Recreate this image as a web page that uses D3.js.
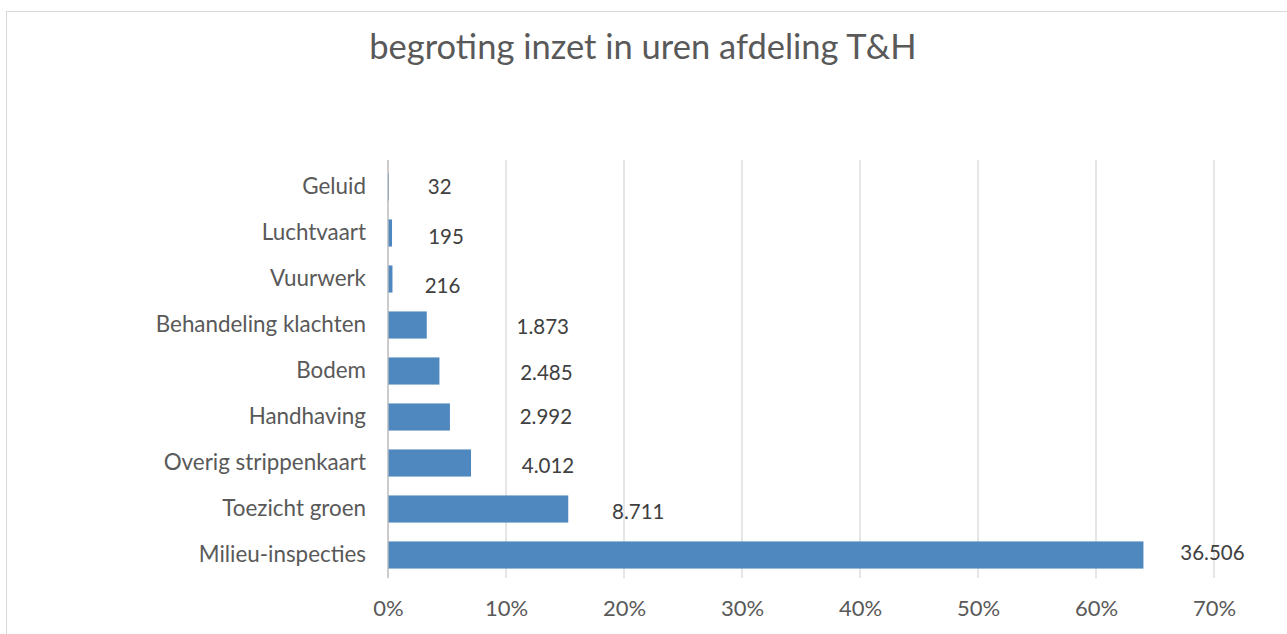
<!DOCTYPE html>
<html>
<head>
<meta charset="utf-8">
<script src="https://cdn.jsdelivr.net/npm/d3@7"></script>
<style>
  body { margin: 0; background: #fff; }
  svg { display: block; font-family: Lato, "Open Sans", sans-serif; }
</style>
</head>
<body>
<svg id="chart"></svg>
<script>
const categories = ["Geluid", "Luchtvaart", "Vuurwerk", "Behandeling klachten", "Bodem",
  "Handhaving", "Overig strippenkaart", "Toezicht groen", "Milieu-inspecties"];
const uren = [32, 195, 216, 1873, 2485, 2992, 4012, 8711, 36506];
const tickValues = [0, 0.1, 0.2, 0.3, 0.4, 0.5, 0.6, 0.7];

const width = 1287;
const height = 634;
const margin = { top: 164, right: 73, bottom: 56, left: 388 };

// labels in the original were dragged around by hand
const labelDx = [51, 54, 50, 116, 107, 96, 77, 70, 69];
const labelDy = [0, 4, 7, 2, 2, 0, 3, 3, -2];

const total = d3.sum(uren);
const data = categories.map((c, i) => ({ cat: c, value: uren[i], share: uren[i] / total, i }));

const svg = d3.select("#chart")
  .attr("width", width)
  .attr("height", height);

// chart frame
svg.append("rect")
  .attr("x", 6.5).attr("y", 11.5)
  .attr("width", width + 10).attr("height", height)
  .attr("fill", "#fff")
  .attr("stroke", "#d9d9d9");

const x = d3.scaleLinear()
  .domain([0, 0.7])
  .range([margin.left, width - margin.right]);

const y = d3.scaleBand()
  .domain(categories)
  .range([margin.top, height - margin.bottom])
  .paddingInner(0.41)
  .paddingOuter(0.205);

// Title
svg.append("text")
  .attr("x", 643)
  .attr("y", 59)
  .attr("text-anchor", "middle")
  .style("font-size", "34.5px")
  .style("fill", "#595959")
  .text("begroting inzet in uren afdeling T&H");

// gridlines
svg.append("g")
  .selectAll("line")
  .data(tickValues)
  .enter()
  .append("line")
  .attr("x1", d => x(d)).attr("x2", d => x(d))
  .attr("y1", margin.top - 4).attr("y2", height - margin.bottom)
  .attr("stroke", "#d9d9d9")
  .attr("stroke-width", 1.3);

// x axis labels
const xAxis = d3.axisBottom(x)
  .tickValues(tickValues)
  .tickFormat(d3.format(".0%"))
  .tickSize(0)
  .tickPadding(0);

const gx = svg.append("g")
  .attr("transform", `translate(0, ${height - margin.bottom + 22})`)
  .call(xAxis);
gx.select(".domain").remove();
gx.selectAll("text")
  .style("font-size", "22px")
  .style("fill", "#595959")
  .style("font-family", "Lato, 'Open Sans', sans-serif");

// y axis labels
const yAxis = d3.axisLeft(y).tickSize(0).tickPadding(22);
const gy = svg.append("g")
  .attr("transform", `translate(${margin.left}, 0)`)
  .call(yAxis);
gy.select(".domain").remove();
gy.selectAll("text")
  .style("font-size", "22.4px")
  .style("fill", "#595959")
  .style("font-family", "Lato, 'Open Sans', sans-serif");

// bars
svg.append("g")
  .selectAll("rect")
  .data(data)
  .enter()
  .append("rect")
  .attr("x", x(0))
  .attr("y", d => y(d.cat))
  .attr("width", d => Math.max(1, x(d.share) - x(0)))
  .attr("height", y.bandwidth())
  .attr("fill", "#4f88bf");

// data labels
const fmt = d3.formatLocale({ decimal: ",", thousands: ".", grouping: [3], currency: ["€", ""] }).format(",d");
svg.append("g")
  .selectAll("text")
  .data(data)
  .enter()
  .append("text")
  .attr("x", d => x(d.share) + labelDx[d.i])
  .attr("y", d => y(d.cat) + y.bandwidth() / 2 + labelDy[d.i])
  .attr("dy", "0.35em")
  .attr("text-anchor", "middle")
  .style("font-size", "20.5px")
  .style("fill", "#404040")
  .text(d => fmt(d.value));

// zero axis line
svg.append("line")
  .attr("x1", x(0)).attr("x2", x(0))
  .attr("y1", margin.top - 4).attr("y2", height - margin.bottom)
  .attr("stroke", "#bfbfbf")
  .attr("stroke-width", 1.3);
</script>
</body>
</html>
